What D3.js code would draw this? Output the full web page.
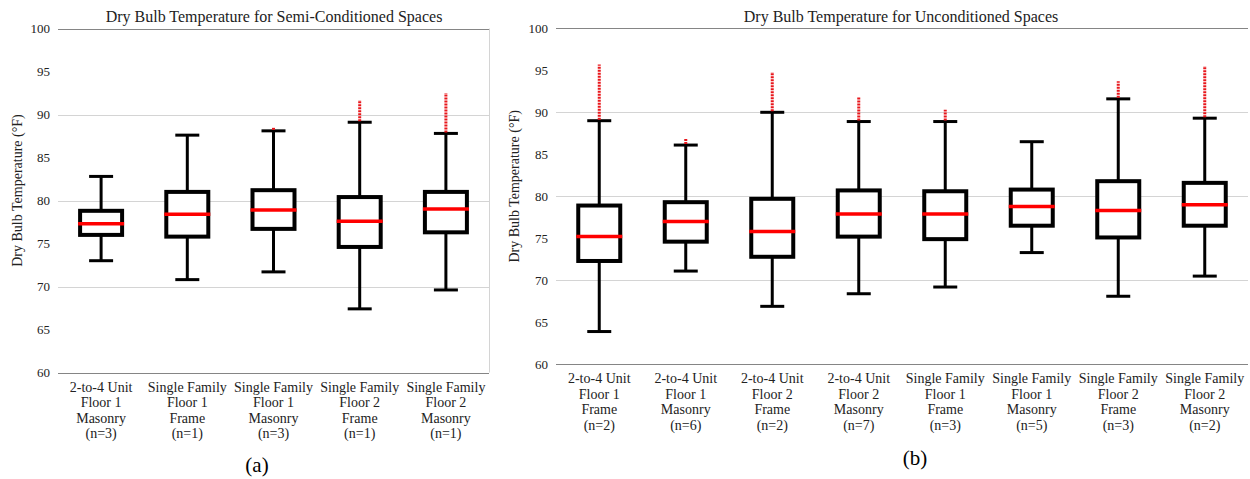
<!DOCTYPE html>
<html>
<head>
<meta charset="utf-8">
<script src="https://cdn.jsdelivr.net/npm/d3@7"></script>
<style>
  body { margin: 0; background: #fff; }
  svg { display: block; font-family: "Liberation Serif", "Times New Roman", serif; }
</style>
</head>
<body>
<div id="chart"></div>
<script>
// semi-conditioned spaces (a)
const semiCategories = [
  ["2-to-4 Unit", "Floor 1", "Masonry", "(n=3)"],
  ["Single Family", "Floor 1", "Frame", "(n=1)"],
  ["Single Family", "Floor 1", "Masonry", "(n=3)"],
  ["Single Family", "Floor 2", "Frame", "(n=1)"],
  ["Single Family", "Floor 2", "Masonry", "(n=1)"]
];
const semiLow = [73.0, 70.8, 71.7, 67.4, 69.6];
const semiQ1 = [76.0, 75.8, 76.7, 74.6, 76.3];
const semiMedian = [77.3, 78.4, 78.9, 77.6, 79.0];
const semiQ3 = [78.8, 81.0, 81.2, 80.4, 81.0];
const semiHigh = [82.8, 87.6, 88.1, 89.1, 87.8];
const semiOutlierMax = [null, null, 88.5, 91.7, 92.5];

// unconditioned spaces (b)
const uncCategories = [
  ["2-to-4 Unit", "Floor 1", "Frame", "(n=2)"],
  ["2-to-4 Unit", "Floor 1", "Masonry", "(n=6)"],
  ["2-to-4 Unit", "Floor 2", "Frame", "(n=2)"],
  ["2-to-4 Unit", "Floor 2", "Masonry", "(n=7)"],
  ["Single Family", "Floor 1", "Frame", "(n=3)"],
  ["Single Family", "Floor 1", "Masonry", "(n=5)"],
  ["Single Family", "Floor 2", "Frame", "(n=3)"],
  ["Single Family", "Floor 2", "Masonry", "(n=2)"]
];
const uncLow = [63.9, 71.1, 66.9, 68.4, 69.2, 73.3, 68.1, 70.5];
const uncQ1 = [72.3, 74.6, 72.8, 75.2, 74.9, 76.5, 75.1, 76.5];
const uncMedian = [75.2, 77.0, 75.8, 77.9, 77.9, 78.8, 78.3, 79.0];
const uncQ3 = [78.9, 79.3, 79.7, 80.7, 80.6, 80.8, 81.8, 81.6];
const uncHigh = [89.0, 86.1, 90.0, 88.9, 88.9, 86.5, 91.6, 89.3];
const uncOutlierMax = [95.7, 86.9, 94.8, 91.8, 90.3, null, 93.7, 95.5];

const yTicks = [60, 65, 70, 75, 80, 85, 90, 95, 100];
const yDomain = [60, 100];

const svg = d3.select("#chart").append("svg")
    .attr("width", 1250)
    .attr("height", 479);

function drawPanel(opts) {
  const rows = opts.categories.map((c, i) => ({
    lines: c,
    low: opts.low[i], q1: opts.q1[i], med: opts.median[i],
    q3: opts.q3[i], high: opts.high[i], out: opts.outMax[i]
  }));

  const x = d3.scaleBand()
      .domain(d3.range(rows.length))
      .range([opts.left, opts.right]);
  const y = d3.scaleLinear()
      .domain(yDomain)
      .range([opts.bottom, opts.top]);

  const g = svg.append("g");

  // gridlines every 10
  g.selectAll("line.grid")
    .data(yTicks.filter(t => t % 10 === 0))
    .join("line")
      .attr("class", "grid")
      .attr("x1", opts.left)
      .attr("x2", opts.right)
      .attr("y1", d => Math.round(y(d)) + 0.5)
      .attr("y2", d => Math.round(y(d)) + 0.5)
      .attr("stroke", d => (d === 60 || d === 100) ? "#858585" : "#d4d4d4")
      .attr("stroke-width", 1);

  if (opts.rightBorder) {
    g.append("line")
        .attr("x1", opts.right + 0.5).attr("x2", opts.right + 0.5)
        .attr("y1", y(100)).attr("y2", y(60))
        .attr("stroke", "#d4d4d4");
  }

  // y axis labels
  const yAxis = d3.axisLeft(y).tickValues(yTicks).tickSize(0).tickPadding(8);
  g.append("g")
      .attr("transform", `translate(${opts.left},0)`)
      .call(yAxis)
      .call(a => a.select(".domain").remove())
      .call(a => a.selectAll("text")
          .attr("font-family", "Liberation Serif")
          .attr("font-size", 13)
          .attr("fill", "#222"));

  const bw = 42, cap = 24;
  const box = g.selectAll("g.box")
    .data(rows)
    .join("g")
      .attr("class", "box")
      .attr("transform", (d, i) => `translate(${x(i) + x.bandwidth() / 2},0)`);

  // whiskers
  box.append("line")
      .attr("y1", d => y(d.high)).attr("y2", d => y(d.q3))
      .attr("stroke", "#000").attr("stroke-width", 3);
  box.append("line")
      .attr("y1", d => y(d.q1)).attr("y2", d => y(d.low))
      .attr("stroke", "#000").attr("stroke-width", 3);
  box.append("line")
      .attr("x1", -cap / 2).attr("x2", cap / 2)
      .attr("y1", d => y(d.high)).attr("y2", d => y(d.high))
      .attr("stroke", "#000").attr("stroke-width", 3);
  box.append("line")
      .attr("x1", -cap / 2).attr("x2", cap / 2)
      .attr("y1", d => y(d.low)).attr("y2", d => y(d.low))
      .attr("stroke", "#000").attr("stroke-width", 3);

  // outliers
  box.filter(d => d.out != null)
    .append("line")
      .attr("y1", d => y(d.high) - 1).attr("y2", d => y(d.out))
      .attr("stroke", "#e8161b").attr("stroke-width", 3)
      .attr("stroke-dasharray", "2,1");

  // boxes
  box.append("rect")
      .attr("x", -bw / 2)
      .attr("width", bw)
      .attr("y", d => y(d.q3))
      .attr("height", d => y(d.q1) - y(d.q3))
      .attr("fill", "#fff")
      .attr("stroke", "#000")
      .attr("stroke-width", 4);

  box.append("line")
      .attr("x1", -bw / 2 - 2).attr("x2", bw / 2 + 2)
      .attr("y1", d => y(d.med)).attr("y2", d => y(d.med))
      .attr("stroke", "#ff0000").attr("stroke-width", 3.5);

  // category labels
  box.append("text")
      .attr("text-anchor", "middle")
      .attr("font-size", 14)
      .attr("fill", "#222")
    .selectAll("tspan")
    .data(d => d.lines)
    .join("tspan")
      .attr("x", 0)
      .attr("y", (d, i) => opts.bottom + 19 + i * 15.5)
      .text(d => d);

  // title
  svg.append("text")
      .attr("x", opts.titleX)
      .attr("y", 22)
      .attr("text-anchor", "middle")
      .attr("font-size", 16)
      .attr("fill", "#222")
      .text(opts.title);

  // y axis title
  svg.append("text")
      .attr("transform", `translate(${opts.yLabelX},${(opts.top + opts.bottom) / 2 - 10}) rotate(-90)`)
      .attr("text-anchor", "middle")
      .attr("font-size", 14)
      .attr("fill", "#222")
      .text("Dry Bulb Temperature (°F)");

  // panel letter
  svg.append("text")
      .attr("x", opts.letterX)
      .attr("y", opts.letterY)
      .attr("text-anchor", "middle")
      .attr("font-size", 21)
      .attr("fill", "#000")
      .text(opts.letter);
}

drawPanel({
  categories: semiCategories, low: semiLow, q1: semiQ1, median: semiMedian,
  q3: semiQ3, high: semiHigh, outMax: semiOutlierMax,
  left: 58, right: 489, top: 28.5, bottom: 372.5, rightBorder: true,
  title: "Dry Bulb Temperature for Semi-Conditioned Spaces", titleX: 274,
  yLabelX: 22, letter: "(a)", letterX: 257, letterY: 472
});

drawPanel({
  categories: uncCategories, low: uncLow, q1: uncQ1, median: uncMedian,
  q3: uncQ3, high: uncHigh, outMax: uncOutlierMax,
  left: 556, right: 1248, top: 28.3, bottom: 364.3, rightBorder: false,
  title: "Dry Bulb Temperature for Unconditioned Spaces", titleX: 901,
  yLabelX: 519, letter: "(b)", letterX: 915, letterY: 465
});
</script>
</body>
</html>
